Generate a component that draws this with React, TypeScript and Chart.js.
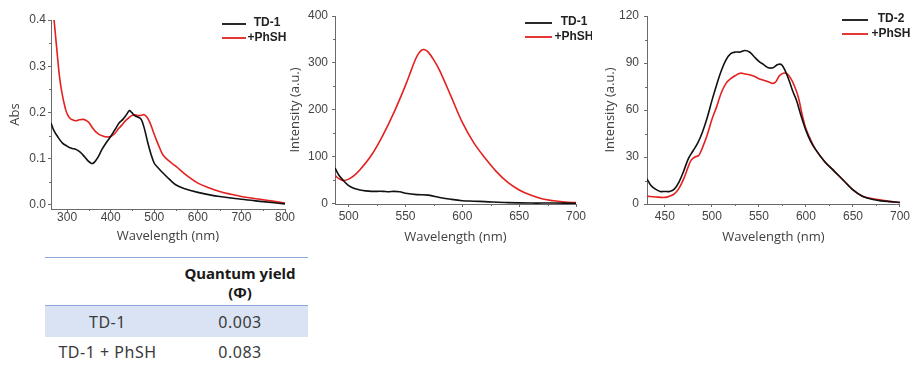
import React, { useEffect, useRef } from 'react';
import { Chart, registerables } from 'chart.js';

Chart.register(...registerables);

// ---------- Panel 1: absorbance ----------
const absWlTD1 = [263, 270, 280, 290, 300, 305, 312, 320, 330, 340, 348, 355, 360, 365, 372, 380, 390, 400, 410, 420, 428, 436, 443, 448, 455, 462, 470, 477, 485, 493, 500, 508, 520, 535, 550, 570, 600, 630, 650, 700, 750, 800];
const absTD1 = [0.177, 0.16, 0.145, 0.133, 0.127, 0.124, 0.122, 0.12, 0.114, 0.104, 0.095, 0.09, 0.09, 0.095, 0.105, 0.12, 0.135, 0.148, 0.163, 0.178, 0.185, 0.195, 0.204, 0.2, 0.193, 0.19, 0.185, 0.166, 0.135, 0.108, 0.09, 0.081, 0.069, 0.055, 0.043, 0.035, 0.027, 0.021, 0.018, 0.012, 0.007, 0.002];
const absWlPhSH = [270, 273, 277, 281, 285, 289, 293, 297, 301, 306, 312, 320, 328, 336, 343, 350, 358, 366, 374, 382, 390, 400, 410, 418, 425, 432, 440, 448, 456, 463, 470, 477, 483, 490, 497, 505, 512, 520, 535, 550, 575, 600, 625, 650, 675, 700, 750, 800];
const absPhSH = [0.4, 0.37, 0.33, 0.29, 0.26, 0.238, 0.22, 0.205, 0.195, 0.188, 0.184, 0.182, 0.184, 0.185, 0.183, 0.178, 0.167, 0.158, 0.152, 0.149, 0.147, 0.148, 0.155, 0.165, 0.172, 0.18, 0.187, 0.193, 0.195, 0.193, 0.194, 0.195, 0.19, 0.178, 0.16, 0.14, 0.124, 0.108, 0.094, 0.083, 0.063, 0.047, 0.037, 0.029, 0.023, 0.018, 0.011, 0.004];
const absXTicks = [300, 400, 500, 600, 700, 800];
const absXMinor = [350, 450, 550, 650, 750];
const absYTicks = [0, 0.1, 0.2, 0.3, 0.4];
const absYMinor = [0.05, 0.15, 0.25, 0.35];

// ---------- Panel 2: TD-1 emission ----------
const em1WlTD1 = [488, 491, 495, 500, 505, 510, 515, 520, 530, 535, 540, 545, 550, 560, 570, 580, 590, 600, 610, 620, 640, 660, 680, 700];
const em1TD1 = [76, 62, 50, 38, 32, 29, 27, 26, 26, 25, 26, 25, 22, 19, 18, 13, 9, 6, 5, 4, 2, 1, 1, 0.5];
const em1WlPhSH = [488, 492, 496, 500, 505, 510, 520, 530, 540, 550, 555, 558, 561, 564, 567, 570, 575, 580, 590, 600, 610, 620, 630, 640, 650, 660, 670, 680, 690, 700];
const em1PhSH = [60, 52, 49, 52, 60, 72, 103, 145, 195, 252, 284, 303, 318, 327, 328, 323, 306, 284, 229, 173, 130, 97, 68, 45, 29, 18, 10, 6, 3, 2];
const em1XTicks = [500, 550, 600, 650, 700];
const em1XMinor = [525, 575, 625, 675];
const em1YTicks = [0, 100, 200, 300, 400];
const em1YMinor = [50, 150, 250, 350];

// ---------- Panel 3: TD-2 emission ----------
const em2WlTD2 = [431, 435, 440, 445, 450, 455, 460, 465, 470, 475, 480, 485, 490, 495, 500, 505, 510, 515, 520, 525, 530, 535, 540, 545, 550, 555, 560, 565, 570, 574, 578, 582, 586, 590, 595, 600, 605, 610, 620, 630, 640, 650, 660, 670, 680, 690, 700];
const em2TD2 = [16, 12, 9.5, 8, 8, 8, 9.5, 14, 21, 29, 34, 39, 46, 55, 66, 76, 85, 92, 96, 97, 97, 98, 97, 94, 91, 89, 87, 87, 89, 89, 85, 79, 72, 66, 56, 47, 40, 35, 27, 21, 15, 9, 5, 3, 2, 1.5, 1];
const em2WlPhSH = [431, 440, 450, 455, 460, 465, 470, 475, 478, 482, 486, 490, 495, 500, 505, 510, 515, 520, 525, 530, 535, 540, 545, 550, 555, 560, 565, 568, 572, 576, 580, 584, 588, 592, 596, 600, 605, 610, 620, 630, 640, 650, 660, 670, 680, 690, 700];
const em2PhSH = [5, 4.5, 4.2, 5, 6.5, 10, 16, 24, 28, 30, 31, 36, 44, 54, 62, 71, 77, 80, 82, 83.5, 83, 82.5, 81.5, 80, 79, 78, 77, 78, 82, 83.5, 83, 80, 75, 68, 57, 48, 41, 35, 27, 21, 15, 9, 5, 3.5, 2.5, 1.5, 1];
const em2XTicks = [450, 500, 550, 600, 650, 700];
const em2XMinor = [475, 525, 575, 625, 675];
const em2YTicks = [0, 30, 60, 90, 120];
const em2YMinor = [15, 45, 75, 105];

// ---------- Table ----------
const tableHeader = ['Quantum yield', '(Φ)'];
const tableRows = ['TD-1', 'TD-1 + PhSH'];
const tableValues = ['0.003', '0.083'];

const AXIS = '#6a6a6a';
const TICK_COLOR = '#444';
const BLACK = '#111111';
const RED = '#e3211f';
const TICK_FONT = '"Liberation Sans", Arial, sans-serif';
const TITLE_FONT = '"Open Sans", "Noto Sans", sans-serif';

const cornerLegend = {
  id: 'cornerLegend',
  afterDraw(chart: any, _args: any, opts: any) {
    const ctx = chart.ctx;
    ctx.save();
    chart.data.datasets.forEach((ds: any, i: number) => {
      const y = opts.y + i * opts.gap;
      ctx.strokeStyle = ds.borderColor;
      ctx.lineWidth = 1.8;
      ctx.beginPath();
      ctx.moveTo(opts.x, y);
      ctx.lineTo(opts.x + opts.len, y);
      ctx.stroke();
      ctx.fillStyle = '#222';
      ctx.font = `bold 12px ${TICK_FONT}`;
      ctx.textAlign = 'center';
      ctx.textBaseline = 'middle';
      ctx.fillText(ds.label, opts.textX, y - (i === 0 ? 1 : 0));
    });
    ctx.restore();
  },
};

const minorTicks = {
  id: 'minorTicks',
  afterDraw(chart: any, _args: any, opts: any) {
    const { ctx } = chart;
    const xs = chart.scales.x;
    const ys = chart.scales.y;
    ctx.save();
    ctx.strokeStyle = AXIS;
    ctx.lineWidth = 1;
    (opts.x || []).forEach((v: number) => {
      const px = Math.round(xs.getPixelForValue(v)) + 0.5;
      ctx.beginPath();
      ctx.moveTo(px, xs.top);
      ctx.lineTo(px, xs.top + 2);
      ctx.stroke();
    });
    (opts.y || []).forEach((v: number) => {
      const py = Math.round(ys.getPixelForValue(v)) + 0.5;
      ctx.beginPath();
      ctx.moveTo(ys.right - 2, py);
      ctx.lineTo(ys.right, py);
      ctx.stroke();
    });
    ctx.restore();
  },
};

type Series = { label: string; x: number[]; y: number[]; color: string };
type Panel = {
  left: number; width: number; height: number;
  series: Series[];
  xMin: number; xMax: number; yMin: number; yMax: number;
  xTicks: number[]; xMinor: number[]; yTicks: number[]; yMinor: number[];
  yFmt: (v: number) => string;
  yTitle: string;
  yWidth: number; xHeight: number; padRight: number; padTop: number;
  xTickPad: number; yTickPad: number; xTitlePad: number; yTitlePad: number;
  legend: { x: number; len: number; textX: number; y: number; gap: number };
};

function makeConfig(p: Panel): any {
  return {
    type: 'line',
    data: {
      datasets: p.series.map((s) => ({
        label: s.label,
        data: s.x.map((x, i) => ({ x, y: s.y[i] })),
        borderColor: s.color,
        borderWidth: 1.6,
        pointRadius: 0,
        tension: 0.35,
        fill: false,
      })),
    },
    options: {
      responsive: false,
      animation: false,
      events: [],
      layout: { padding: { left: 0, right: p.padRight, top: p.padTop, bottom: 0 } },
      plugins: {
        legend: { display: false },
        tooltip: { enabled: false },
        cornerLegend: p.legend,
        minorTicks: { x: p.xMinor, y: p.yMinor },
      },
      scales: {
        x: {
          type: 'linear',
          min: p.xMin,
          max: p.xMax,
          afterBuildTicks: (s: any) => { s.ticks = p.xTicks.map((v) => ({ value: v })); },
          afterFit: (s: any) => { s.height = p.xHeight; },
          border: { color: AXIS, width: 1 },
          grid: { drawOnChartArea: false, drawTicks: true, tickLength: 3, color: AXIS, tickColor: AXIS },
          ticks: {
            color: TICK_COLOR,
            font: { family: TICK_FONT, size: 12, lineHeight: 1 },
            padding: p.xTickPad,
            maxRotation: 0,
            autoSkip: false,
            callback: (v: number) => String(v),
          },
          title: {
            display: true,
            text: 'Wavelength (nm)',
            color: '#404040',
            font: { family: TITLE_FONT, size: 13 },
            padding: { top: 0, bottom: p.xTitlePad },
          },
        },
        y: {
          type: 'linear',
          min: p.yMin,
          max: p.yMax,
          afterBuildTicks: (s: any) => { s.ticks = p.yTicks.map((v) => ({ value: v })); },
          afterFit: (s: any) => { s.width = p.yWidth; },
          border: { color: AXIS, width: 1 },
          grid: { drawOnChartArea: false, drawTicks: true, tickLength: 3, color: AXIS, tickColor: AXIS },
          ticks: {
            color: TICK_COLOR,
            font: { family: TICK_FONT, size: 12 },
            padding: p.yTickPad,
            autoSkip: false,
            callback: (v: number) => p.yFmt(v),
          },
          title: {
            display: true,
            text: p.yTitle,
            color: '#404040',
            font: { family: TITLE_FONT, size: 13 },
            padding: { top: p.yTitlePad, bottom: 0 },
          },
        },
      },
    },
    plugins: [cornerLegend, minorTicks],
  };
}

const panels: Panel[] = [
  {
    left: 0, width: 300, height: 250,
    series: [
      { label: 'TD-1', x: absWlTD1, y: absTD1, color: BLACK },
      { label: '+PhSH', x: absWlPhSH, y: absPhSH, color: RED },
    ],
    xMin: 263, xMax: 800, yMin: -0.009, yMax: 0.4,
    xTicks: absXTicks, xMinor: absXMinor, yTicks: absYTicks, yMinor: absYMinor,
    yFmt: (v) => v.toFixed(1),
    yTitle: 'Abs',
    yWidth: 51, xHeight: 41, padRight: 15, padTop: 20,
    xTickPad: 0, yTickPad: 2, xTitlePad: 6, yTitlePad: 7,
    legend: { x: 222, len: 24, textX: 267, y: 24, gap: 14 },
  },
  {
    left: 285, width: 307, height: 250,
    series: [
      { label: 'TD-1', x: em1WlTD1, y: em1TD1, color: BLACK },
      { label: '+PhSH', x: em1WlPhSH, y: em1PhSH, color: RED },
    ],
    xMin: 488, xMax: 700, yMin: -1, yMax: 400,
    xTicks: em1XTicks, xMinor: em1XMinor, yTicks: em1YTicks, yMinor: em1YMinor,
    yFmt: (v) => String(v),
    yTitle: 'Intensity (a.u.)',
    yWidth: 50, xHeight: 46, padRight: 16, padTop: 16,
    xTickPad: 4, yTickPad: 4, xTitlePad: 5, yTitlePad: 2,
    legend: { x: 240, len: 27, textX: 289, y: 23, gap: 14 },
  },
  {
    left: 592, width: 322, height: 250,
    series: [
      { label: 'TD-2', x: em2WlTD2, y: em2TD2, color: BLACK },
      { label: '+PhSH', x: em2WlPhSH, y: em2PhSH, color: RED },
    ],
    xMin: 431, xMax: 700, yMin: 0, yMax: 120,
    xTicks: em2XTicks, xMinor: em2XMinor, yTicks: em2YTicks, yMinor: em2YMinor,
    yFmt: (v) => String(v),
    yTitle: 'Intensity (a.u.)',
    yWidth: 55, xHeight: 46, padRight: 11, padTop: 16,
    xTickPad: 4, yTickPad: 5, xTitlePad: 5, yTitlePad: 10,
    legend: { x: 250, len: 26, textX: 299, y: 20, gap: 14 },
  },
];

function ChartPanel({ panel }: { panel: Panel }) {
  const ref = useRef<HTMLCanvasElement | null>(null);
  useEffect(() => {
    if (!ref.current) return;
    const chart = new Chart(ref.current, makeConfig(panel));
    return () => chart.destroy();
  }, [panel]);
  return (
    <canvas
      ref={ref}
      width={panel.width}
      height={panel.height}
      style={{ position: 'absolute', left: panel.left, top: 0, width: panel.width, height: panel.height }}
    />
  );
}

const TABLE_FONT = '"Noto Sans", "Noto Sans CJK SC", sans-serif';

function QuantumTable() {
  const line = (top: number) => (
    <div style={{ position: 'absolute', left: 45, top, width: 263, height: 1, background: '#8eaadb' }} />
  );
  const cell = (text: string, left: number, width: number, centerY: number, color: string) => (
    <div
      style={{
        position: 'absolute', left, width, top: centerY - 11, height: 22, lineHeight: '22px',
        textAlign: 'center', fontFamily: TABLE_FONT, fontSize: 16, letterSpacing: '0.5px', color,
        whiteSpace: 'nowrap',
      }}
    >
      {text}
    </div>
  );
  return (
    <>
      {line(257)}
      <div
        style={{
          position: 'absolute', left: 170, width: 140, top: 264, lineHeight: '19px',
          textAlign: 'center', fontFamily: TABLE_FONT, fontSize: 15, fontWeight: 700, color: '#1a1a1a',
        }}
      >
        <div>{tableHeader[0]}</div>
        <div>{tableHeader[1]}</div>
      </div>
      <div style={{ position: 'absolute', left: 45, top: 306, width: 263, height: 31, background: '#dae3f3' }} />
      {line(305)}
      {cell(tableRows[0], 45, 125, 322, '#3a3a3a')}
      {cell(tableValues[0], 170, 140, 322, '#3a3a3a')}
      {cell(tableRows[1], 45, 125, 352, '#3a3a3a')}
      {cell(tableValues[1], 170, 140, 352, '#3a3a3a')}
    </>
  );
}

export default function App() {
  return (
    <div style={{ position: 'absolute', left: 0, top: 0, width: 914, height: 365, background: '#fff', overflow: 'hidden' }}>
      {panels.map((p, i) => (
        <ChartPanel key={i} panel={p} />
      ))}
      <QuantumTable />
    </div>
  );
}
